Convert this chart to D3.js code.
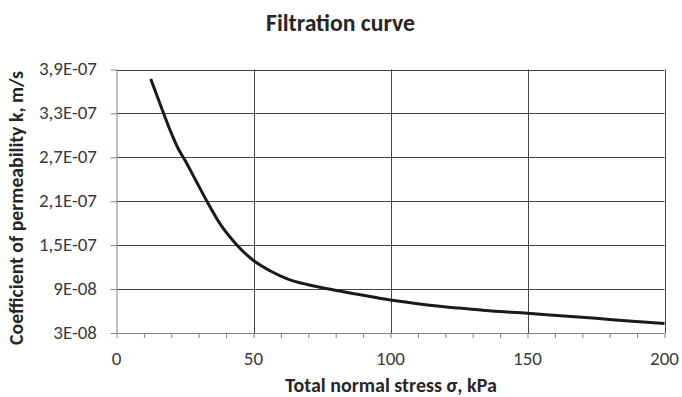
<!DOCTYPE html>
<html><head><meta charset="utf-8">
<script src="https://cdn.jsdelivr.net/npm/d3@7"></script>
<style>body{margin:0;background:#fff}svg{display:block}</style>
</head><body>
<svg id="c" width="682" height="397"></svg>
<script>
const sigma = [12.5, 15, 17.2, 20, 22.5, 25, 29, 33, 38, 44, 50, 56, 63, 70, 77, 88, 100, 112, 125, 137, 150, 162, 175, 187, 200];
const perm  = [3.77e-7, 3.52e-7, 3.3e-7, 3.03e-7, 2.82e-7, 2.66e-7, 2.38e-7, 2.1e-7, 1.78e-7, 1.5e-7, 1.29e-7, 1.15e-7, 1.03e-7, 0.96e-7, 0.905e-7, 0.83e-7, 0.75e-7, 0.69e-7, 0.64e-7, 0.60e-7, 0.57e-7, 0.535e-7, 0.50e-7, 0.465e-7, 0.43e-7];
const yTicks = [3e-8, 9e-8, 1.5e-7, 2.1e-7, 2.7e-7, 3.3e-7, 3.9e-7];
const yTickLabels = ["3E-08", "9E-08", "1,5E-07", "2,1E-07", "2,7E-07", "3,3E-07", "3,9E-07"];
const xTicks = [0, 50, 100, 150, 200];
const xMinorTicks = d3.range(0, 201, 10);
const title = "Filtration curve";
const xTitle = "Total normal stress σ, kPa";
const yTitle = "Coefficient of permeability k, m/s";

const svg = d3.select("#c");
const L = 116.5, R = 664.5, T = 69.5, B = 333;
const x = d3.scaleLinear().domain([0, 200]).range([L, R]);
const y = d3.scaleLinear().domain([3e-8, 3.9e-7]).range([B, T]);
const font = "Carlito, Lato, 'Open Sans', sans-serif";

// fit a font size so that text reaches a target width
function fitSize(str, targetW, bold, maxSize) {
  const t = svg.append("text").attr("font-family", font).attr("font-size", 20)
    .attr("font-weight", bold ? "bold" : "normal").text(str);
  const w = t.node().getComputedTextLength();
  t.remove();
  return Math.min(maxSize, 20 * targetW / w);
}
const tickSize = fitSize("3,9E-07", 60, false, 19);
const titleSize = fitSize(title, 149, true, 24);
const xTitleSize = fitSize(xTitle, 214, true, 20);
const yTitleSize = fitSize(yTitle, 274, true, 20);

// gridlines
svg.append("g").selectAll("line").data(yTicks.slice(1)).join("line")
  .attr("x1", L).attr("x2", R).attr("y1", d => Math.round(y(d)) + 0.5).attr("y2", d => Math.round(y(d)) + 0.5)
  .attr("stroke", "#444").attr("stroke-width", 1);
svg.append("g").selectAll("line").data(xTicks.slice(1)).join("line")
  .attr("y1", T).attr("y2", B).attr("x1", d => Math.round(x(d)) + 0.5).attr("x2", d => Math.round(x(d)) + 0.5)
  .attr("stroke", "#444").attr("stroke-width", 1);

// x axis
const xa = svg.append("g").attr("transform", `translate(0,${B})`)
  .call(d3.axisBottom(x).tickValues(xMinorTicks).tickSize(5).tickFormat(""));
xa.select(".domain").attr("stroke", "#808080").attr("d", `M${L},0.5H${R}`);
xa.selectAll(".tick line").attr("stroke", "#808080");
svg.append("g").selectAll("text").data(xTicks).join("text")
  .attr("x", d => x(d)).attr("y", 365).attr("text-anchor", "middle")
  .attr("font-family", font).attr("font-size", tickSize).attr("fill", "#3a3a3a").text(d => d);

// y axis
const ya = svg.append("g").attr("transform", `translate(${L},0)`)
  .call(d3.axisLeft(y).tickValues(yTicks).tickSize(6).tickFormat(""));
ya.select(".domain").attr("stroke", "#808080").attr("d", `M0.5,${T}V${B}`);
ya.selectAll(".tick line").attr("stroke", "#808080");
svg.append("g").selectAll("text").data(yTicks).join("text")
  .attr("x", 97).attr("y", d => y(d) + 5.8).attr("text-anchor", "end")
  .attr("font-family", font).attr("font-size", tickSize).attr("fill", "#3a3a3a").text((d, i) => yTickLabels[i]);

// curve
const line = d3.line().x(d => x(d[0])).y(d => y(d[1])).curve(d3.curveMonotoneX);
svg.append("path").datum(sigma.map((s, i) => [s, perm[i]]))
  .attr("d", line).attr("fill", "none").attr("stroke", "#1a1a1a").attr("stroke-width", 3);

// titles
svg.append("text").attr("x", 340.5).attr("y", 31).attr("text-anchor", "middle")
  .attr("font-family", font).attr("font-weight", "bold").attr("font-size", titleSize).attr("fill", "#262626").text(title);
svg.append("text").attr("x", 391).attr("y", 392).attr("text-anchor", "middle")
  .attr("font-family", font).attr("font-weight", "bold").attr("font-size", xTitleSize).attr("fill", "#262626").text(xTitle);
svg.append("text").attr("transform", `translate(23,208) rotate(-90)`).attr("text-anchor", "middle")
  .attr("font-family", font).attr("font-weight", "bold").attr("font-size", yTitleSize).attr("fill", "#262626").text(yTitle);
</script>
</body></html>
